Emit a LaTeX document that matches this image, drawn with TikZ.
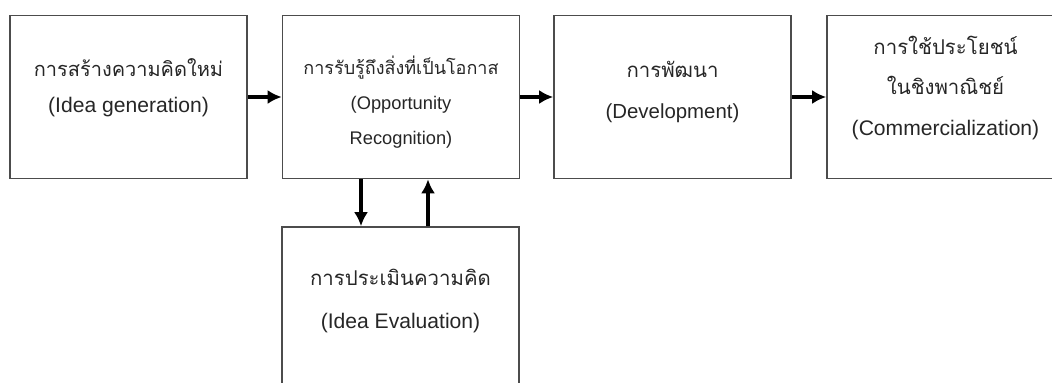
\documentclass[tikz,border=0pt]{standalone}
\usepackage{fontspec}
\setmainfont{Liberation Sans}
\newfontfamily\thaifont[Script=Thai]{Loma}
\usetikzlibrary{arrows.meta,calc}

\tikzset{
	stage/.style={draw=black!70,line width=1.1pt,minimum width=5.925cm,minimum height=4.075cm,inner sep=0pt},
	caption/.style={align=center,inner sep=0pt,text=black!85},
	flow/.style={->,line width=2.7pt}
}

\begin{document}
\begin{tikzpicture}[>={Latex[length=10pt,width=10pt]},x=0.025cm,y=-0.025cm]
	\useasboundingbox (0,0) rectangle (1052,382);
	\clip (0,0) rectangle (1052,382);
	% top row
	\node[stage] (gen) at (128.5,97) {};
	\node[stage] (opp) at (401,97) {};
	\node[stage] (dev) at (672.5,97) {};
	\node[stage] (com) at (945.5,97) {};
	% below
	\node[stage] (eva) at (400.5,308.5) {};
	% texts
	\node[caption,font=\fontsize{15}{25.5}\selectfont] (genT) at (128.5,88)
		{{\thaifont\fontsize{14.2}{25.5}\selectfont การสร้างความคิดใหม่}\\(Idea generation)};
	\node[caption,font=\fontsize{13}{25}\selectfont] (oppT) at (401,102)
		{{\thaifont\fontsize{12.8}{25}\selectfont การรับรู้ถึงสิ่งที่เป็นโอกาส}\\(Opportunity\\Recognition)};
	\node[caption,font=\fontsize{14.5}{29.5}\selectfont] (devT) at (672.5,92)
		{{\thaifont การพัฒนา}\\(Development)};
	\node[caption,font=\fontsize{15}{29}\selectfont] (comT) at (945.5,88)
		{{\thaifont\fontsize{14.5}{29}\selectfont การใช้ประโยชน์}\\{\thaifont\fontsize{14.5}{29}\selectfont ในชิงพาณิชย์}\\(Commercialization)};
	\node[caption,font=\fontsize{15}{30}\selectfont] (evaT) at (400.5,301)
		{{\thaifont\fontsize{14.5}{30}\selectfont การประเมินความคิด}\\(Idea Evaluation)};
	% arrows
	\draw[flow] (gen) -- (opp);
	\draw[flow] (opp) -- (dev);
	\draw[flow] (dev) -- (com);
	\draw[flow] ($(opp.south)+(-40,0)$) -- ($(eva.north)+(-39.5,0)$);
	\draw[flow] ($(eva.north)+(27.5,0)$) -- ($(opp.south)+(27,0)$);
\end{tikzpicture}
\end{document}
